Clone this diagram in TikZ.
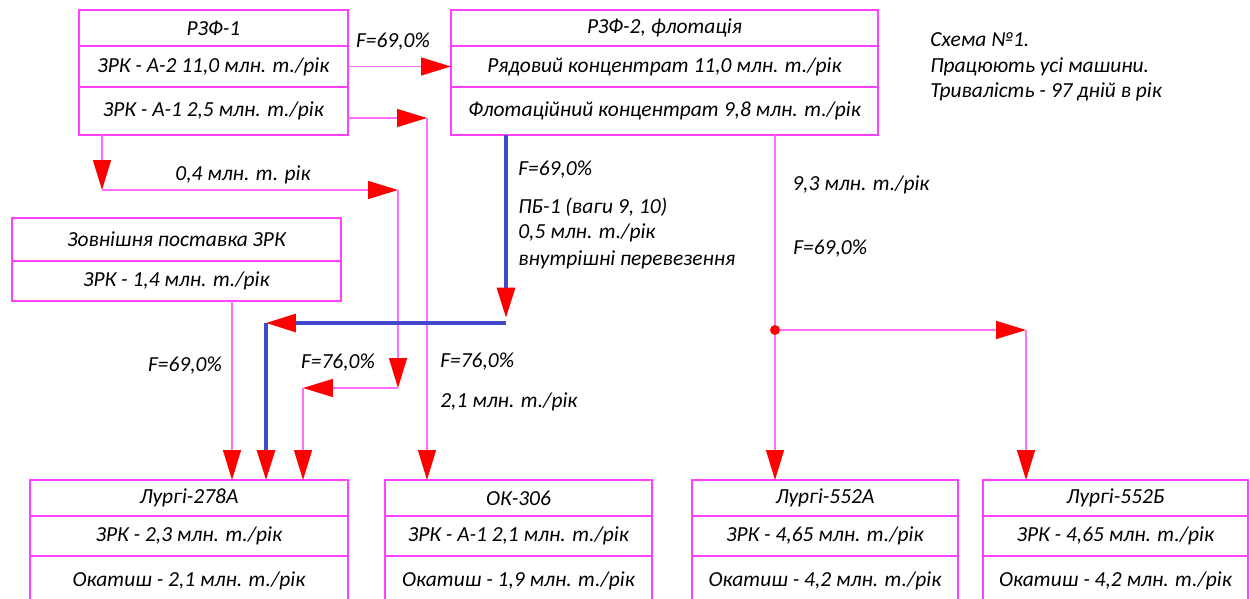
\documentclass[tikz,border=0pt]{standalone}
\usepackage{fontspec}
\setmainfont{Carlito}
\usetikzlibrary{positioning, arrows.meta}
\definecolor{boxpink}{RGB}{255,64,255}
\definecolor{linepink}{RGB}{255,110,255}
\definecolor{tipred}{RGB}{255,0,0}
\definecolor{pbblue}{RGB}{66,72,204}
\newcommand{\upx}{0.02cm}

\begin{document}
\begin{tikzpicture}[x=0.02cm, y=-0.02cm,
    every node/.style={font=\fontsize{12.2}{14}\selectfont\itshape},
    cell/.style={draw=boxpink, line width=1pt, inner sep=0pt, outer sep=0pt, minimum height=#1*\upx},
    flow/.style={draw=linepink, line width=0.8pt, -{Triangle[length=0.6cm, width=0.36cm, color=tipred]}},
    blueflow/.style={draw=pbblue, line width=1.8pt, -{Triangle[length=0.6cm, width=0.36cm, color=tipred]}},
    lbl/.style={anchor=west, inner sep=0pt}]
    \useasboundingbox (0,0) rectangle (1250,598);

    % Source boxes
    \node[cell=36, minimum width=269*\upx] (rzfA) at (213.5,28) {РЗФ-1};
    \node[cell=41, minimum width=269*\upx, below=0pt of rzfA] (rzfA2) {ЗРК - А-2 11,0 млн. т./рік};
    \node[cell=48, minimum width=269*\upx, below=0pt of rzfA2] (rzfA1) {ЗРК - А-1 2,5 млн. т./рік};

    \node[cell=36, minimum width=427*\upx] (rzfB) at (664.5,28) {РЗФ-2, флотація};
    \node[cell=41, minimum width=427*\upx, below=0pt of rzfB] (rzfB2) {Рядовий концентрат 11,0 млн. т./рік};
    \node[cell=48, minimum width=427*\upx, below=0pt of rzfB2] (rzfB3) {Флотаційний концентрат 9,8 млн. т./рік};

    \node[cell=43, minimum width=329*\upx] (ext) at (176.5,239.5) {Зовнішня поставка ЗРК};
    \node[cell=40, minimum width=329*\upx, below=0pt of ext] (extB) {ЗРК - 1,4 млн. т./рік};

    % Consumers
    \node[cell=36, minimum width=318*\upx] (lurA) at (189,498) {Лургі-278А};
    \node[cell=40, minimum width=318*\upx, below=0pt of lurA] (lurA2) {ЗРК - 2,3 млн. т./рік};
    \node[cell=49, minimum width=318*\upx, below=0pt of lurA2] (lurA3) {Окатиш - 2,1 млн. т./рік};

    \node[cell=36, minimum width=267*\upx] (ok) at (518.5,498) {ОК-306};
    \node[cell=40, minimum width=267*\upx, below=0pt of ok] (ok2) {ЗРК - А-1 2,1 млн. т./рік};
    \node[cell=49, minimum width=267*\upx, below=0pt of ok2] (ok3) {Окатиш - 1,9 млн. т./рік};

    \node[cell=36, minimum width=266*\upx] (lurC) at (825,498) {Лургі-552А};
    \node[cell=40, minimum width=266*\upx, below=0pt of lurC] (lurC2) {ЗРК - 4,65 млн. т./рік};
    \node[cell=49, minimum width=266*\upx, below=0pt of lurC2] (lurC3) {Окатиш - 4,2 млн. т./рік};

    \node[cell=36, minimum width=265*\upx] (lurD) at (1115.5,498) {Лургі-552Б};
    \node[cell=40, minimum width=265*\upx, below=0pt of lurD] (lurD2) {ЗРК - 4,65 млн. т./рік};
    \node[cell=49, minimum width=265*\upx, below=0pt of lurD2] (lurD3) {Окатиш - 4,2 млн. т./рік};

    % Bend points
    \coordinate (kA) at (427,118);
    \coordinate (kB) at (102,190);
    \coordinate (kC) at (398,190);
    \coordinate (kD) at (398,388);
    \coordinate (kE) at (303,388);
    \coordinate (kF) at (232,301);
    \coordinate (kG) at (506,323);
    \coordinate (kH) at (266,323);
    \coordinate (kJ) at (775,330);
    \coordinate (kK) at (1026,330);

    % Flows
    \draw[flow] (rzfA2.east) -- (rzfB2.west);
    \draw[flow] (rzfA1.east |- kA) -- (kA);
    \draw[flow] (kA) -- (kA |- ok.north);

    \draw[flow] (rzfA1.south -| kB) -- (kB);
    \draw[flow] (kB) -- (kC);
    \draw[flow] (kC) -- (kD);
    \draw[flow] (kD) -- (kE);
    \draw[flow] (kE) -- (kE |- lurA.north);

    \draw[flow] (kF) -- (kF |- lurA.north);

    \draw[blueflow] (rzfB3.south -| kG) -- ([yshift=3pt]kG);
    \draw[blueflow] (kG) -- (kH);
    \draw[blueflow] (kH) -- (kH |- lurA.north);

    \draw[flow] (rzfB3.south -| kJ) -- (kJ |- lurC.north);
    \draw[flow] (kJ) -- (kK);
    \draw[flow] (kK) -- (kK |- lurD.north);
    \fill[tipred] (kJ) circle (5);

    % Labels
    \node (fA) at (393,42) {F=69,0\%};
    \node (qA) at (243,175) {0,4 млн. т. рік};
    \node (fB) at (185,366) {F=69,0\%};
    \node (fC) at (338,363) {F=76,0\%};
    \node[lbl] (fD) at (440,362) {F=76,0\%};
    \node[lbl] (qD) at (440,402) {2,1 млн. т./рік};
    \node[lbl] (fE) at (518,170) {F=69,0\%};
    \node[lbl] (pbA) at (518,207) {ПБ-1 (ваги 9, 10)};
    \node[lbl] (pbB) at (518,233) {0,5 млн. т./рік};
    \node[lbl] (pbC) at (518,260) {внутрішні перевезення};
    \node[lbl] (qF) at (792,185) {9,3 млн. т./рік};
    \node[lbl] (fF) at (793,249) {F=69,0\%};
    \node[lbl] (nA) at (930,40) {Схема №1.};
    \node[lbl] (nB) at (930,67) {Працюють усі машини.};
    \node[lbl] (nC) at (930,92) {Тривалість - 97 дній в рік};
\end{tikzpicture}
\end{document}
